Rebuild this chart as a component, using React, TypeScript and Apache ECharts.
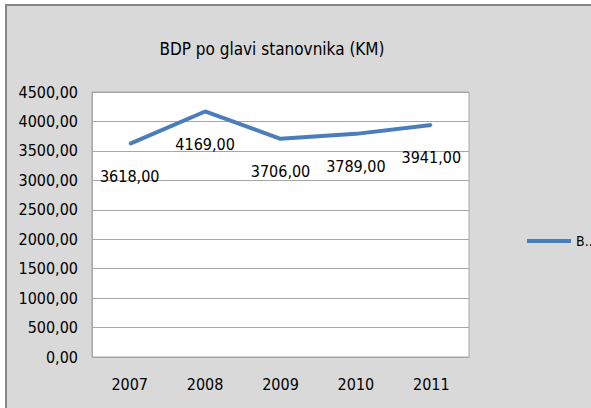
import React, { useEffect, useRef } from "react";
import * as echarts from "echarts";

const years = ["2007", "2008", "2009", "2010", "2011"];
const gdpPerCapita = [3618, 4169, 3706, 3789, 3941];
const seriesName = "BDP po glavi stanovnika (KM)";
const titleText = "BDP po glavi stanovnika (KM)";

const FONT = "'DejaVu Sans Condensed', 'DejaVu Sans', sans-serif";
const fmt = (v: number) => v.toFixed(2).replace(".", ",");
const BLUE = "#4a7ebb";

export default function App() {
  const ref = useRef<HTMLDivElement>(null);
  useEffect(() => {
    if (!ref.current) return;
    const chart = echarts.init(ref.current, undefined, { renderer: "svg" });
    chart.setOption({
      animation: false,
      backgroundColor: "#ffffff",
      textStyle: { fontFamily: FONT },
      graphic: [
        {
          type: "rect",
          z: -10,
          shape: { x: 6, y: 5, width: 620, height: 440 },
          style: { fill: "#d9d9d9", stroke: "#858585", lineWidth: 2 },
          silent: true,
        },
      ],
      title: {
        text: titleText,
        left: 267,
        textAlign: "center",
        top: 35,
        textStyle: { fontFamily: FONT, fontSize: 17, fontWeight: "normal", color: "#000" },
      },
      legend: {
        left: 522,
        top: 229,
        itemWidth: 44,
        itemHeight: 4,
        formatter: () => "B..",
        textStyle: { fontFamily: FONT, fontSize: 14, color: "#000" },
        data: [{ name: seriesName, icon: "rect", itemStyle: { color: BLUE } }],
      },
      grid: {
        left: 92,
        right: 122,
        top: 92,
        bottom: 51,
        show: true,
        backgroundColor: "#ffffff",
        borderColor: "#a6a6a6",
        borderWidth: 1,
      },
      xAxis: {
        type: "category",
        data: years,
        boundaryGap: true,
        axisLine: { show: true, lineStyle: { color: "#a6a6a6" } },
        axisTick: { show: false },
        axisLabel: { fontFamily: FONT, fontSize: 16, color: "#000", margin: 19 },
      },
      yAxis: {
        type: "value",
        min: 0,
        max: 4500,
        interval: 500,
        axisLine: { show: true, lineStyle: { color: "#a6a6a6" } },
        axisTick: { show: false },
        splitLine: { lineStyle: { color: "#a6a6a6", width: 1 } },
        axisLabel: {
          fontFamily: FONT,
          fontSize: 16,
          color: "#000",
          margin: 14,
          formatter: (v: number) => fmt(v),
        },
      },
      series: [
        {
          name: seriesName,
          type: "line",
          data: gdpPerCapita,
          symbol: "circle",
          symbolSize: 2,
          showSymbol: true,
          lineStyle: { color: BLUE, width: 4 },
          itemStyle: { color: BLUE },
          label: {
            show: true,
            position: "bottom",
            distance: 24,
            fontFamily: FONT,
            fontSize: 16,
            color: "#000",
            formatter: (p: any) => fmt(p.value),
          },
        },
      ],
    });
    return () => chart.dispose();
  }, []);
  return (
    <div
      ref={ref}
      style={{ position: "absolute", left: 0, top: 0, width: 591, height: 408 }}
    />
  );
}
